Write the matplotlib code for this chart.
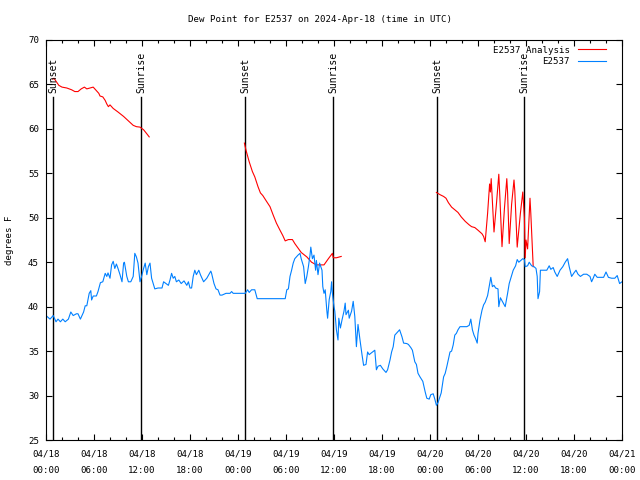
import numpy as np
import pandas as pd
import matplotlib
matplotlib.use("Agg")
import matplotlib.pyplot as plt
import matplotlib.dates as mdates

plt.rcParams['font.family'] = ['DejaVu Sans Mono']
plt.rcParams['font.size'] = 6.6

start = pd.Timestamp('2024-04-18 00:00')

# E2537 observations (hours after start, degrees F)
obs_hours = [
    0.0, 0.5, 0.9, 1.25, 1.5, 1.8, 2.1, 2.4, 2.8, 3.1, 3.4, 3.8, 4.0, 4.3, 4.7, 4.9, 5.1, 5.4, 5.6, 5.7,
    5.9, 6.3, 6.5, 6.8, 7.1, 7.4, 7.6, 7.75, 8.0, 8.2, 8.4, 8.6, 8.8, 9.0, 9.25, 9.5, 9.7, 9.8, 10.1, 10.3,
    10.6, 10.9, 11.1, 11.3, 11.5, 11.75, 11.95, 12.2, 12.4, 12.6, 12.8, 13.0, 13.2, 13.6, 14.0, 14.5, 14.7, 15.0, 15.3, 15.5,
    15.7, 15.9, 16.1, 16.3, 16.6, 16.9, 17.25, 17.6, 17.8, 18.0, 18.2, 18.4, 18.6, 18.8, 19.1, 19.3, 19.7, 20.1, 20.6, 20.7,
    21.0, 21.25, 21.5, 21.75, 22.0, 22.5, 23.0, 23.2, 23.4, 24.25, 24.9, 25.2, 25.4, 25.7, 26.1, 26.4, 29.9, 30.1, 30.3, 30.5,
    30.7, 30.9, 31.1, 31.5, 31.75, 31.9, 32.2, 32.4, 32.6, 32.8, 33.0, 33.1, 33.3, 33.5, 33.7, 33.8, 34.0, 34.2, 34.5, 34.6,
    34.75, 34.9, 35.1, 35.2, 35.4, 35.6, 35.7, 35.8, 36.0, 36.1, 36.3, 36.5, 36.6, 36.8, 37.0, 37.25, 37.4, 37.5, 37.8, 37.9,
    38.2, 38.4, 38.6, 38.8, 39.0, 39.25, 39.5, 39.7, 40.0, 40.2, 40.4, 40.6, 41.1, 41.3, 41.5, 41.8, 42.1, 42.5, 42.7, 43.0,
    43.2, 43.4, 43.6, 43.9, 44.2, 44.5, 44.7, 45.1, 45.3, 45.6, 45.8, 46.1, 46.3, 46.5, 46.75, 47.1, 47.4, 47.6, 47.9, 48.1,
    48.4, 48.6, 48.8, 49.0, 49.25, 49.4, 49.7, 49.9, 50.1, 50.3, 50.5, 50.7, 50.9, 51.1, 51.3, 51.5, 51.75, 52.6, 52.9, 53.1,
    53.3, 53.5, 53.7, 53.9, 54.0, 54.25, 54.5, 54.7, 54.9, 55.2, 55.4, 55.6, 55.8, 56.0, 56.2, 56.5, 56.6, 56.8, 57.1, 57.4,
    57.7, 57.9, 58.2, 58.4, 58.7, 58.9, 59.1, 59.6, 59.8, 59.9, 60.2, 60.4, 60.7, 61.0, 61.25, 61.4, 61.5, 61.7, 61.8, 62.2,
    62.6, 62.9, 63.1, 63.4, 63.6, 63.9, 64.25, 64.6, 64.9, 65.2, 65.4, 65.7, 66.0, 66.25, 66.5, 66.8, 67.2, 67.6, 68.0, 68.2,
    68.4, 68.6, 68.9, 69.7, 70.0, 70.3, 70.7, 71.1, 71.4, 71.7, 72.0,
]
obs_dewpt = [
    39.0, 38.6, 39.0, 38.3, 38.6, 38.3, 38.6, 38.3, 38.6, 39.4, 39.0, 39.2, 39.2, 38.6, 39.4, 40.1, 40.1, 41.5, 41.8, 40.75,
    41.2, 41.2, 41.7, 42.7, 42.8, 43.75, 43.4, 43.8, 43.2, 44.7, 45.1, 44.3, 44.8, 44.3, 43.6, 42.8, 44.9, 45.0, 43.4, 42.8,
    42.8, 43.4, 46.0, 45.6, 44.9, 42.8, 43.4, 44.3, 44.9, 43.6, 44.5, 44.9, 43.2, 42.0, 42.1, 42.1, 42.8, 42.6, 42.4, 43.0,
    43.75, 43.2, 43.4, 42.8, 43.0, 42.6, 42.9, 42.4, 42.8, 42.1, 42.1, 43.4, 44.1, 43.6, 44.1, 43.6, 42.8, 43.2, 44.0, 43.75,
    42.6, 42.0, 41.9, 41.3, 41.3, 41.5, 41.5, 41.7, 41.5, 41.5, 41.5, 41.9, 41.6, 41.9, 41.9, 40.9, 40.9, 41.9, 42.0, 43.4,
    44.1, 44.9, 45.4, 45.8, 46.0, 45.4, 44.5, 42.6, 43.4, 44.5, 45.8, 46.7, 45.4, 45.8, 44.1, 45.2, 43.6, 44.9, 44.1, 42.25,
    41.5, 41.9, 39.6, 38.7, 40.8, 41.7, 42.8, 41.5, 40.0, 39.5, 37.4, 36.25, 38.7, 37.6, 38.5, 39.5, 40.4, 39.1, 39.6, 38.7,
    39.5, 40.6, 38.9, 35.5, 38.0, 36.25, 34.6, 33.4, 33.5, 34.9, 34.6, 34.75, 35.1, 32.9, 33.3, 33.4, 33.0, 32.6, 32.9, 34.0,
    34.9, 35.5, 36.8, 37.1, 37.4, 36.6, 35.9, 35.85, 35.75, 35.4, 35.1, 33.8, 33.5, 32.5, 32.1, 31.6, 30.4, 29.7, 29.6, 30.1,
    30.2, 29.6, 28.9, 29.2, 29.9, 30.3, 32.1, 32.5, 33.25, 34.1, 34.9, 35.0, 35.7, 36.8, 37.0, 37.4, 37.75, 37.75, 37.9, 38.6,
    37.4, 36.8, 36.4, 35.9, 37.0, 38.5, 39.6, 40.2, 40.5, 41.25, 42.25, 43.3, 42.25, 42.4, 42.1, 42.0, 40.0, 41.0, 40.5, 40.0,
    41.5, 42.6, 43.5, 44.1, 44.6, 45.3, 45.0, 45.4, 45.3, 44.5, 44.6, 45.0, 44.6, 44.5, 44.3, 43.4, 40.9, 41.7, 44.1, 44.1,
    44.1, 44.6, 44.2, 44.4, 43.9, 43.4, 44.1, 44.5, 45.0, 45.4, 44.5, 43.4, 43.8, 44.1, 43.65, 43.4, 43.65, 43.65, 43.4, 42.8,
    43.2, 43.65, 43.3, 43.3, 43.9, 43.3, 43.2, 43.2, 43.5, 42.6, 42.8,
]

# E2537 analysis, three runs separated by gaps (nan)
ana_hours = [
    0.83, 1.0, 1.3, 1.6, 2.0, 2.6, 3.2, 3.6, 4.0, 4.4, 4.8, 5.1, 5.5, 5.9, 6.1, 6.6, 6.75, 7.1, 7.4, 7.6,
    7.8, 8.0, 8.4, 9.0, 9.7, 10.3, 10.9, 11.3, 11.75, 12.2, 12.6, 12.9, 13.0,
    24.8, 25.0, 25.4, 25.8, 26.1, 26.5, 26.8, 27.1, 27.6, 28.0, 28.4, 28.8, 29.25, 29.6, 29.9, 30.3, 30.8, 31.1,
    31.5, 31.9, 32.6, 33.2, 33.8, 34.25, 34.75, 35.3, 35.8, 35.9, 36.3, 36.9, 37.0,
    48.8, 49.25, 49.7, 50.0, 50.3, 50.7, 51.1, 51.5, 51.9, 52.4, 52.9, 53.2, 53.6, 54.0, 54.5, 54.7, 54.9, 55.2,
    55.45, 55.55, 55.65, 56.0, 56.3, 56.6, 56.7, 57.0, 57.3, 57.6, 57.7, 57.9, 58.2, 58.5, 58.6, 58.9, 59.3, 59.6,
    59.8, 59.9, 60.0, 60.2, 60.5, 60.6, 60.9,
]
ana_dewpt = [
    65.6, 65.7, 65.3, 64.9, 64.7, 64.6, 64.4, 64.2, 64.2, 64.5, 64.7, 64.5, 64.6, 64.7, 64.5, 64.0, 63.7, 63.6, 63.2, 62.8,
    62.5, 62.7, 62.3, 61.9, 61.4, 60.9, 60.4, 60.25, 60.2, 59.9, 59.45, 59.1, np.nan,
    58.4, 57.6, 56.3, 55.2, 54.6, 53.5, 52.8, 52.5, 51.8, 51.25, 50.3, 49.4, 48.6, 48.0, 47.4, 47.55, 47.55, 47.1,
    46.6, 46.1, 45.6, 45.0, 44.7, 44.7, 44.7, 45.4, 46.0, 45.5, 45.5, 45.65, np.nan,
    52.85, 52.6, 52.4, 52.2, 51.7, 51.2, 50.9, 50.6, 50.1, 49.6, 49.2, 49.0, 48.9, 48.6, 48.2, 47.9, 47.3, 50.5,
    53.8, 52.9, 54.4, 48.4, 51.5, 54.9, 53.0, 46.75, 51.0, 54.4, 52.8, 47.1, 51.5, 54.25, 53.0, 46.7, 50.5, 52.9,
    50.0, 45.5, 47.5, 46.5, 52.2, 50.5, 44.5,
]

sun_hours = [0.87, 11.88, 24.88, 35.87, 48.9, 59.8]
sun_labels = ['Sunset', 'Sunrise', 'Sunset', 'Sunrise', 'Sunset', 'Sunrise']

obs_t = start + pd.to_timedelta(obs_hours, unit='h')
ana_t = start + pd.to_timedelta(ana_hours, unit='h')
sun_t = start + pd.to_timedelta(sun_hours, unit='h')

fig = plt.figure(figsize=(6.4, 4.8), dpi=100)
ax = fig.add_axes([46 / 640, 40 / 480, 576 / 640, 400 / 480])

for t, lab in zip(sun_t, sun_labels):
    ax.plot([t, t], [25, 63.6], color='black', lw=1.0)
    ax.text(t, 64.0, lab, rotation=90, ha='center', va='bottom', fontsize=7)

ax.plot(ana_t, ana_dewpt, color='#ff0000', lw=0.8, label='E2537 Analysis')
ax.plot(obs_t, obs_dewpt, color='#0080ff', lw=0.8, label='E2537')

ax.set_xlim(start, start + pd.Timedelta(hours=72))
ax.set_ylim(25, 70)
ax.set_yticks(np.arange(25, 71, 5))
ax.xaxis.set_major_locator(mdates.HourLocator(byhour=range(0, 24, 6)))
ax.xaxis.set_minor_locator(mdates.HourLocator(byhour=range(0, 24, 2)))
ax.xaxis.set_major_formatter(mdates.DateFormatter('%m/%d\n%H:%M'))
ax.tick_params(which='both', direction='in', top=True, right=True, labelsize=6.6)
ax.tick_params(which='major', length=4, width=0.8)
ax.tick_params(which='minor', length=2, width=0.8)
ax.tick_params(axis='x', pad=7)
ax.tick_params(axis='y', pad=5)
for lab in ax.get_xticklabels():
    lab.set_linespacing(2.0)
for s in ax.spines.values():
    s.set_linewidth(0.8)

leg = ax.legend(loc='upper right', bbox_to_anchor=(1 - 12 / 576, 1 - 2 / 400), frameon=False,
                markerfirst=False, handlelength=3.1, fontsize=6.6, borderaxespad=0,
                labelspacing=0.25, handletextpad=0.9)

fig.text(0.5, 1 - 19 / 480, 'Dew Point for E2537 on 2024-Apr-18 (time in UTC)', ha='center', va='center', fontsize=6.6)
fig.text(10 / 640, 0.5, 'degrees F', rotation=90, ha='center', va='center', fontsize=6.6)

fig.savefig('out.png', dpi=100)
